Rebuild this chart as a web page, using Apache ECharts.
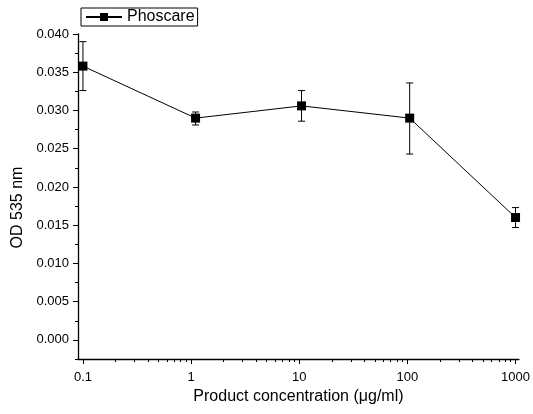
<!DOCTYPE html>
<html>
  <head>
    <meta charset="utf-8" />
  </head>
  <body style="margin: 0; background: #fff">
    <div id="container" style="width: 533px; height: 414px"></div>
    <script src="https://cdn.jsdelivr.net/npm/echarts@6/dist/echarts.min.js"></script>
    <script>
      const concentrations = [0.1, 1.1, 10.5, 105, 1000]
      const odValues = [0.0358, 0.029, 0.0306, 0.029, 0.016]
      const errLow = [0.0326, 0.0281, 0.0286, 0.0243, 0.0147]
      const errHigh = [0.039, 0.0298, 0.0326, 0.0336, 0.0173]

      const xMajor = [0.1, 1, 10, 100, 1000]
      const xMinor = []
      ;[0.1, 1, 10, 100].forEach((d) => {
        for (let k = 2; k <= 9; k++) xMinor.push(d * k)
      })
      const yMajor = [0, 0.005, 0.01, 0.015, 0.02, 0.025, 0.03, 0.035, 0.04]
      const yMinor = [-0.0025, 0.0025, 0.0075, 0.0125, 0.0175, 0.0225, 0.0275, 0.0325, 0.0375]

      const font = 'Liberation Sans, Arial, sans-serif'
      const chart = echarts.init(document.getElementById('container'))

      const axisBase = {
        axisLine: { show: true, onZero: false, lineStyle: { color: '#000', width: 1.3 } },
        splitLine: { show: false },
      }

      chart.setOption({
        animation: false,
        grid: { left: 78, right: 13, top: 34, bottom: 55 },
        legend: {
          left: 81,
          top: 8,
          data: ['Phoscare'],
          borderColor: '#000',
          borderWidth: 1,
          borderRadius: 0,
          padding: [1, 3, 1, 4],
          itemWidth: 36,
          itemHeight: 10,
          itemGap: 4,
          textStyle: { fontFamily: font, fontSize: 16, color: '#000' },
        },
        xAxis: [
          Object.assign({}, axisBase, {
            type: 'log',
            min: 0.09,
            max: 1075,
            name: 'Product concentration (μg/ml)',
            nameLocation: 'middle',
            nameGap: 28,
            nameTextStyle: { fontFamily: font, fontSize: 16, color: '#000' },
            axisTick: { show: true, length: 5, customValues: xMajor, lineStyle: { color: '#000' } },
            axisLabel: {
              customValues: xMajor,
              margin: 12,
              fontFamily: font,
              fontSize: 13,
              color: '#000',
              formatter: (v) => String(v),
            },
          }),
          {
            type: 'log',
            min: 0.09,
            max: 1075,
            position: 'bottom',
            axisLine: { show: false, onZero: false },
            splitLine: { show: false },
            axisLabel: { show: false },
            axisTick: { show: true, length: 3, customValues: xMinor, lineStyle: { color: '#000' } },
          },
        ],
        yAxis: [
          Object.assign({}, axisBase, {
            type: 'value',
            min: -0.0025,
            max: 0.04,
            name: 'OD 535 nm',
            nameLocation: 'middle',
            nameGap: 51,
            nameTextStyle: { fontFamily: font, fontSize: 16, color: '#000', padding: [0, 22, 0, 0] },
            axisTick: { show: true, length: 5, customValues: yMajor, lineStyle: { color: '#000' } },
            axisLabel: {
              customValues: yMajor,
              margin: 9,
              fontFamily: font,
              fontSize: 13,
              color: '#000',
              formatter: (v) => v.toFixed(3),
            },
          }),
          {
            type: 'value',
            min: -0.0025,
            max: 0.04,
            position: 'left',
            axisLine: { show: false, onZero: false },
            splitLine: { show: false },
            axisLabel: { show: false },
            axisTick: { show: true, length: 3, customValues: yMinor, lineStyle: { color: '#000' } },
          },
        ],
        series: [
          {
            name: 'Phoscare',
            type: 'line',
            data: concentrations.map((c, i) => [c, odValues[i]]),
            symbol: 'rect',
            symbolSize: 9,
            lineStyle: { color: '#000', width: 1 },
            itemStyle: { color: '#000' },
          },
          {
            type: 'custom',
            data: concentrations.map((c, i) => [c, errLow[i], errHigh[i]]),
            renderItem: (params, api) => {
              const lo = api.coord([api.value(0), api.value(1)])
              const hi = api.coord([api.value(0), api.value(2)])
              const w = 3.5
              const st = { stroke: '#000', lineWidth: 1 }
              return {
                type: 'group',
                children: [
                  { type: 'line', shape: { x1: lo[0], y1: lo[1], x2: hi[0], y2: hi[1] }, style: st },
                  { type: 'line', shape: { x1: lo[0] - w, y1: lo[1], x2: lo[0] + w, y2: lo[1] }, style: st },
                  { type: 'line', shape: { x1: hi[0] - w, y1: hi[1], x2: hi[0] + w, y2: hi[1] }, style: st },
                ],
              }
            },
            z: 1,
          },
        ],
      })
    </script>
  </body>
</html>
